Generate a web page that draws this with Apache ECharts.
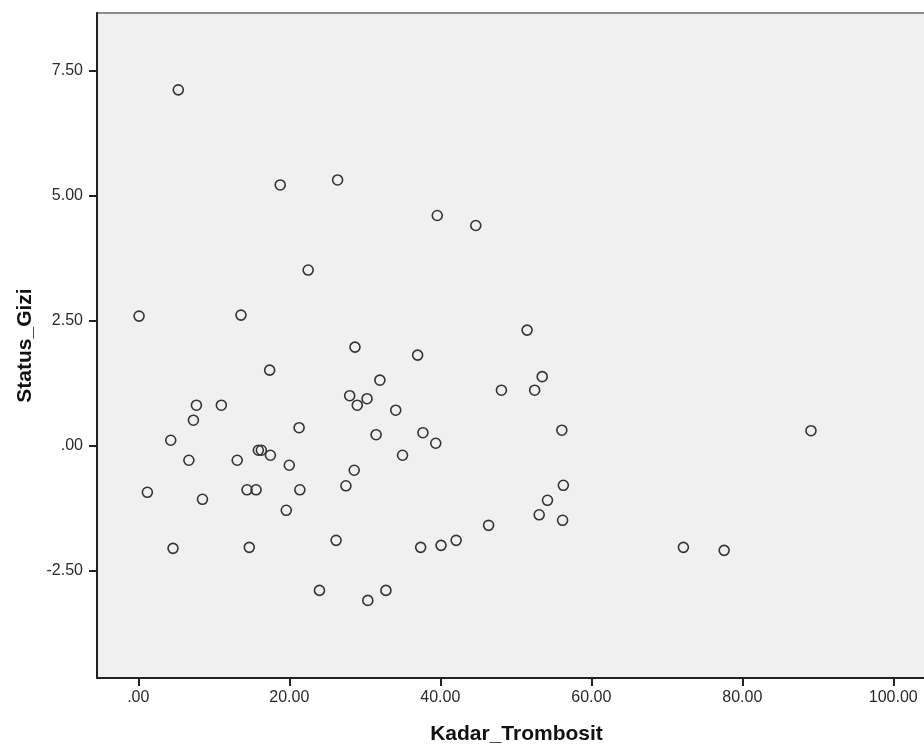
<!DOCTYPE html>
<html>
<head>
<meta charset="utf-8">
<title>Kadar_Trombosit vs Status_Gizi</title>
<script src="https://cdn.jsdelivr.net/npm/echarts@6/dist/echarts.min.js"></script>
<style>
  html, body { margin: 0; padding: 0; background: #fff; overflow: hidden; }
  /* the plot frame runs past the right edge of the picture, so the canvas is a bit wider */
  #chart { width: 940px; height: 746px; }
</style>
</head>
<body>
<div id="chart"></div>
<script>
// data
const kadarTrombosit = [
  5.3, 18.8, 26.4, 39.6, 44.7, 22.5, 0.1, 13.6, 17.4, 7.7,
  11.0, 7.3, 21.3, 4.3, 6.7, 13.1, 15.9, 16.3, 17.5, 20.0,
  1.2, 8.5, 14.4, 15.6, 21.4, 19.6, 4.6, 14.7, 24.0, 28.7,
  37.0, 51.5, 32.0, 53.5, 48.1, 52.5, 28.0, 30.3, 29.0, 34.1,
  31.5, 37.7, 39.4, 56.1, 35.0, 28.6, 27.5, 56.3, 54.2, 26.2,
  30.4, 32.8, 37.4, 40.1, 42.1, 46.4, 53.1, 56.2, 72.2, 77.6,
  89.1
]
const statusGizi = [
  7.11, 5.21, 5.31, 4.60, 4.40, 3.51, 2.59, 2.61, 1.51, 0.81,
  0.81, 0.51, 0.36, 0.11, -0.29, -0.29, -0.09, -0.09, -0.19, -0.39,
  -0.93, -1.07, -0.88, -0.88, -0.88, -1.29, -2.05, -2.03, -2.89, 1.97,
  1.81, 2.31, 1.31, 1.38, 1.11, 1.11, 1.00, 0.94, 0.81, 0.71,
  0.22, 0.26, 0.05, 0.31, -0.19, -0.49, -0.80, -0.79, -1.09, -1.89,
  -3.09, -2.89, -2.03, -1.99, -1.89, -1.59, -1.38, -1.49, -2.03, -2.09,
  0.30
]
// tick labels
const xTicks = [0, 20, 40, 60, 80, 100]
const yTicks = [-2.5, 0, 2.5, 5, 7.5]

// SPSS style numbers: ".00", "20.00", "-2.50"
function spssFmt(v) {
  let s = Number(v).toFixed(2)
  if (s.startsWith('0.')) s = s.slice(1)
  if (s.startsWith('-0.')) s = '-' + s.slice(2)
  return s
}

const points = kadarTrombosit.map((x, i) => [x, statusGizi[i]])

const chart = echarts.init(document.getElementById('chart'))
chart.setOption({
  animation: false,
  backgroundColor: '#fff',
  grid: {
    left: 97,
    right: 4,
    top: 13,
    bottom: 68,
    outerBoundsMode: 'none',
    show: true,
    backgroundColor: '#f0f0f0',
    borderColor: '#8c8c8c',
    borderWidth: 2
  },
  xAxis: {
    type: 'value',
    min: -5.47,
    max: 105.66,
    name: 'Kadar_Trombosit',
    nameLocation: 'middle',
    nameGap: 46,
    nameTextStyle: {
      fontFamily: 'Liberation Sans, Arial, sans-serif',
      fontWeight: 'bold',
      fontSize: 21,
      color: '#111'
    },
    axisLine: { show: true, onZero: false, lineStyle: { color: '#222', width: 2 } },
    axisTick: { show: true, customValues: xTicks, length: 8, lineStyle: { color: '#222', width: 2 } },
    axisLabel: {
      customValues: xTicks,
      formatter: spssFmt,
      margin: 12,
      fontFamily: 'Liberation Sans, Arial, sans-serif',
      fontSize: 16,
      color: '#2a2a2a'
    },
    splitLine: { show: false }
  },
  yAxis: {
    type: 'value',
    min: -4.64,
    max: 8.645,
    name: 'Status_Gizi',
    nameLocation: 'middle',
    nameRotate: 90,
    nameGap: 60,
    nameTextStyle: {
      fontFamily: 'Liberation Sans, Arial, sans-serif',
      fontWeight: 'bold',
      fontSize: 21,
      color: '#111'
    },
    axisLine: { show: true, onZero: false, lineStyle: { color: '#222', width: 2 } },
    axisTick: { show: true, customValues: yTicks, length: 8, lineStyle: { color: '#222', width: 2 } },
    axisLabel: {
      customValues: yTicks,
      formatter: spssFmt,
      margin: 14,
      fontFamily: 'Liberation Sans, Arial, sans-serif',
      fontSize: 16,
      color: '#2a2a2a'
    },
    splitLine: { show: false }
  },
  series: [
    {
      type: 'scatter',
      data: points,
      symbol: 'circle',
      symbolSize: 10,
      itemStyle: {
        color: 'rgba(0,0,0,0)',
        borderColor: '#333',
        borderWidth: 1.6,
        opacity: 1
      }
    }
  ]
})
</script>
</body>
</html>
